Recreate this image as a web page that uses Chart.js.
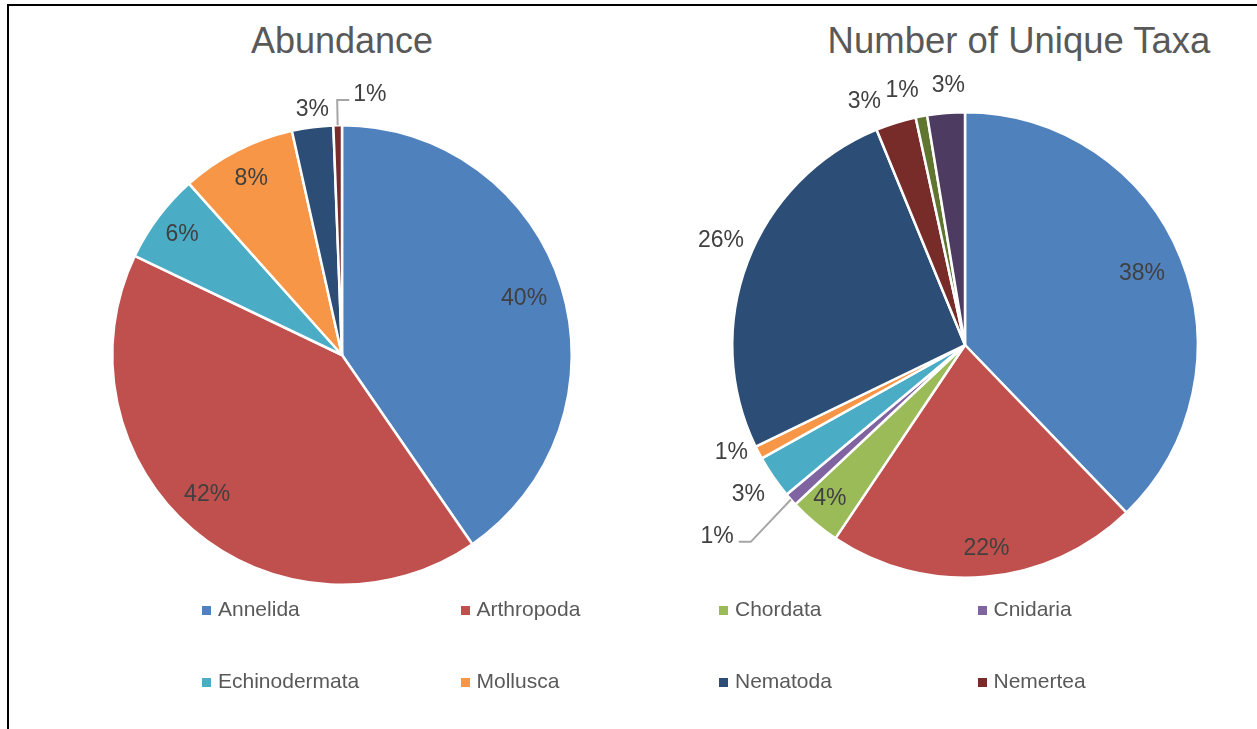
<!DOCTYPE html>
<html>
<head>
<meta charset="utf-8">
<script src="https://cdn.jsdelivr.net/npm/chart.js"></script>
<style>
  html, body { margin: 0; padding: 0; background: #fff; }
  body { width: 1257px; height: 729px; overflow: hidden; position: relative; font-family: "Liberation Sans", Arial, sans-serif; }
  #frame { position: absolute; left: 7px; top: 4px; right: -10px; bottom: -10px; border-top: 2px solid #000; border-left: 2px solid #000; }
  .title { position: absolute; top: 23px; width: 500px; margin-left: -250px; text-align: center; font-size: 36px; line-height: 36px; color: #595959; white-space: nowrap; }
  canvas { position: absolute; }
  #legend { position: absolute; left: 202px; top: 598px; width: 1040px; display: flex; flex-wrap: wrap; }
  .item { width: 258.5px; height: 72px; font-size: 21px; line-height: 21px; color: #595959; white-space: nowrap; }
  .item span.box { display: inline-block; width: 9px; height: 9px; margin-right: 7px; vertical-align: 1px; }
</style>
</head>
<body>
<div id="frame"></div>
<div class="title" style="left:342px">Abundance</div>
<div class="title" style="left:1019px; font-size:36.5px">Number of Unique Taxa</div>
<canvas id="abundanceChart" width="580" height="580" style="left:52px; top:65px"></canvas>
<canvas id="taxaChart" width="580" height="580" style="left:675px; top:55px"></canvas>
<div id="legend"></div>
<script>
// Data (percent of total)
const categories = ['Annelida', 'Arthropoda', 'Chordata', 'Cnidaria', 'Echinodermata',
                    'Mollusca', 'Nematoda', 'Nemertea', 'Platyhelminthes', 'Sipuncula'];
const abundance = [40.4, 41.7, 0, 0, 6.3, 8.1, 2.9, 0.6, 0, 0];
const uniqueTaxa = [37.8, 21.6, 3.6, 0.9, 3.0, 0.9, 26.0, 2.8, 0.8, 2.6];
const colors = ['#4F81BD', '#C0504D', '#9BBB59', '#8064A2', '#4BACC6',
                '#F79646', '#2C4D75', '#772C2A', '#5F7530', '#4D3B62'];

const DEG = Math.PI / 180;

// Draws the percent labels, with an optional leader line for thin slices.
// place[i] = [radius factor, angle shift in degrees]
const pctLabels = {
    id: 'pctLabels',
    afterDatasetsDraw(chart, args, opts) {
        const ctx = chart.ctx;
        const values = chart.data.datasets[0].data;
        const total = values.reduce((a, b) => a + b, 0);
        ctx.save();
        ctx.font = '23px "Liberation Sans", Arial, sans-serif';
        ctx.fillStyle = '#404040';
        chart.getDatasetMeta(0).data.forEach((arc, i) => {
            if (!values[i]) return;
            const p = arc.getProps(['x', 'y', 'startAngle', 'endAngle', 'outerRadius'], true);
            const mid = (p.startAngle + p.endAngle) / 2;
            const text = Math.round(values[i] / total * 100) + '%';
            const leader = opts.leaders[i];
            if (leader) {
                const a = mid + (leader.shift || 0) * DEG;
                const x0 = p.x + Math.cos(mid) * p.outerRadius, y0 = p.y + Math.sin(mid) * p.outerRadius;
                const x1 = p.x + Math.cos(a) * p.outerRadius * leader.elbow;
                const y1 = p.y + Math.sin(a) * p.outerRadius * leader.elbow;
                const x2 = x1 + leader.tail;
                ctx.strokeStyle = '#A6A6A6';
                ctx.lineWidth = 2;
                ctx.beginPath();
                ctx.moveTo(x0, y0);
                ctx.lineTo(x1, y1);
                ctx.lineTo(x2, y1);
                ctx.stroke();
                ctx.textBaseline = 'alphabetic';
                ctx.textAlign = leader.tail > 0 ? 'left' : 'right';
                ctx.fillText(text, x2 + (leader.tail > 0 ? 4 : -5), y1 + 1);
            } else {
                const pl = opts.place[i] || [0.85, 0];
                const a = mid + pl[1] * DEG;
                const r = p.outerRadius * pl[0];
                ctx.textBaseline = 'middle';
                ctx.textAlign = 'center';
                ctx.fillText(text, p.x + Math.cos(a) * r, p.y + Math.sin(a) * r);
            }
        });
        ctx.restore();
    }
};

function createPie(id, values, padding, place, leaders) {
    const ctx = document.getElementById(id).getContext('2d');
    return new Chart(ctx, {
        type: 'pie',
        data: {
            labels: categories,
            datasets: [{
                data: values,
                backgroundColor: colors,
                borderColor: '#FFFFFF',
                borderWidth: 2.5
            }]
        },
        options: {
            responsive: false,
            animation: false,
            layout: { padding: padding },
            plugins: {
                legend: { display: false },
                tooltip: { enabled: false },
                pctLabels: { place: place, leaders: leaders }
            }
        },
        plugins: [pctLabels]
    });
}

createPie('abundanceChart', abundance, 59,
    { 0: [0.83, 0], 1: [0.845, 3.5], 4: [0.87, 0], 5: [0.865, 0], 6: [1.075, 0.5] },
    { 7: { elbow: 1.11, tail: 12 } });

createPie('taxaChart', uniqueTaxa, 56,
    { 0: [0.82, 0], 1: [0.88, -1], 2: [0.88, 1], 4: [1.13, 0], 5: [1.105, 2.8],
      6: [1.14, 2.2], 7: [1.13, -5.2], 8: [1.125, -3.1], 9: [1.115, 1] },
    { 3: { elbow: 1.25, tail: -12, shift: -1 } });

// Shared legend below both pies
const legend = document.getElementById('legend');
categories.forEach((name, i) => {
    const item = document.createElement('div');
    item.className = 'item';
    item.innerHTML = '<span class="box" style="background:' + colors[i] + '"></span>' + name;
    legend.appendChild(item);
});
</script>
</body>
</html>
